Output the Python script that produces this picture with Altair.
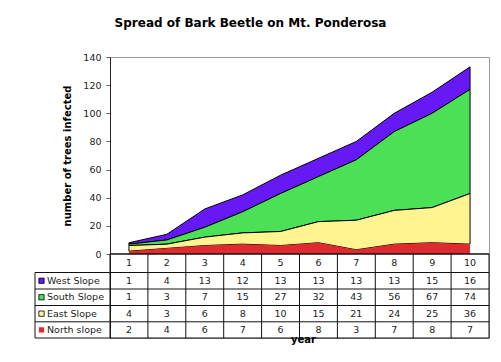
import altair as alt
import pandas as pd

# ---------------- data ----------------
years = [1, 2, 3, 4, 5, 6, 7, 8, 9, 10]
series = ["West Slope", "South Slope", "East Slope", "North slope"]
west = [1, 4, 13, 12, 13, 13, 13, 13, 15, 16]
south = [1, 3, 7, 15, 27, 32, 43, 56, 67, 74]
east = [4, 3, 6, 8, 10, 15, 21, 24, 25, 36]
north = [2, 4, 6, 7, 6, 8, 3, 7, 8, 7]
y_ticks = [0, 20, 40, 60, 80, 100, 120, 140]

colors = ["#6619F5", "#4BE055", "#FFF48F", "#DF2A2F"]
strokes = ["#000000", "#000000", "#000000", "transparent"]

values = {"West Slope": west, "South Slope": south, "East Slope": east, "North slope": north}
stack_order = {"North slope": 0, "East Slope": 1, "South Slope": 2, "West Slope": 3}

area_df = pd.DataFrame(
    [{"year": yr, "series": s, "value": v, "order": stack_order[s]}
     for s in series for yr, v in zip(years, values[s])]
)

# ---------------- layout ----------------
W, H = 379, 281
PLOT_H = 197                     # pixel height of the 0..140 part
UNIT = PLOT_H / 140.0            # px per y unit
Y_MIN = -(H - PLOT_H) / UNIT
XPX = W / 10.0                   # px per year

row_px = [0, 18.5, 35, 51.5, 67.8, 84]          # table row boundaries (px below 0 line)
row_y = [-p / UNIT for p in row_px]
leg_left = 0.5 - 75 / XPX
leg_sq = 0.5 - 68.5 / XPX
leg_txt = 0.5 - 63 / XPX

xs = alt.Scale(domain=[0.5, 10.5], nice=False, zero=False)
ys = alt.Scale(domain=[Y_MIN, 140], nice=False, zero=False)

FONT = "DejaVu Sans"

x_axis = alt.Axis(labels=False, ticks=False, domain=False, grid=False,
                  title="year", titleFont=FONT, titleFontSize=10,
                  titleFontWeight="bold", titleColor="#000",
                  titlePadding=-4, titleX=193)
y_axis = alt.Axis(values=y_ticks, grid=False, tickSize=4, tickColor="#666",
                  domainColor="#222", labelFont=FONT, labelFontSize=9.5,
                  labelColor="#222", labelPadding=5,
                  title="number of trees infected", titleFont=FONT,
                  titleFontSize=10, titleFontWeight="bold", titleColor="#000",
                  titleAngle=270, titleX=-43, titleY=98.5,
                  titleBaseline="middle", titleAlign="center")

# stacked areas
area = alt.Chart(area_df).mark_area(strokeWidth=1, interpolate="linear").encode(
    x=alt.X("year:Q", scale=xs, axis=x_axis),
    y=alt.Y("value:Q", stack="zero", scale=ys, axis=y_axis),
    color=alt.Color("series:N", scale=alt.Scale(domain=series, range=colors), legend=None),
    stroke=alt.Stroke("series:N", scale=alt.Scale(domain=series, range=strokes), legend=None),
    order=alt.Order("order:Q"),
)

# table grid lines
h_lines = [{"x": 0.5, "x2": 10.5, "y": row_y[0], "y2": row_y[0], "w": 1.5}]
for r in range(1, 6):
    h_lines.append({"x": leg_left, "x2": 10.5, "y": row_y[r], "y2": row_y[r], "w": 1})
v_lines = [{"x": 0.5 + k, "x2": 0.5 + k, "y": row_y[0], "y2": row_y[5], "w": 1} for k in range(0, 11)]
v_lines.append({"x": leg_left, "x2": leg_left, "y": row_y[1], "y2": row_y[5], "w": 1})
lines_df = pd.DataFrame(h_lines + v_lines)

grid = alt.Chart(lines_df).mark_rule(color="#111").encode(
    x=alt.X("x:Q", scale=xs, axis=x_axis),
    x2="x2:Q",
    y=alt.Y("y:Q", scale=ys, axis=y_axis),
    y2="y2:Q",
    strokeWidth=alt.StrokeWidth("w:Q", scale=None),
)

# table texts
cells = [{"x": yr, "y": (row_y[0] + row_y[1]) / 2, "t": str(yr)} for yr in years]
for i, s in enumerate(series):
    yc = (row_y[i + 1] + row_y[i + 2]) / 2
    for yr, v in zip(years, values[s]):
        cells.append({"x": yr, "y": yc, "t": str(v)})
cells_df = pd.DataFrame(cells)

cell_text = alt.Chart(cells_df).mark_text(
    font=FONT, fontSize=9.5, color="#222", baseline="middle", align="center"
).encode(
    x=alt.X("x:Q", scale=xs, axis=x_axis),
    y=alt.Y("y:Q", scale=ys, axis=y_axis),
    text="t:N",
)

leg_df = pd.DataFrame(
    [{"series": s, "x": leg_sq, "xt": leg_txt, "y": (row_y[i + 1] + row_y[i + 2]) / 2}
     for i, s in enumerate(series)]
)

leg_sq_mark = alt.Chart(leg_df).mark_square(size=28, opacity=1, strokeWidth=0.8).encode(
    x=alt.X("x:Q", scale=xs, axis=x_axis),
    y=alt.Y("y:Q", scale=ys, axis=y_axis),
    color=alt.Color("series:N", scale=alt.Scale(domain=series, range=colors), legend=None),
    stroke=alt.Stroke("series:N", scale=alt.Scale(domain=series, range=strokes), legend=None),
)

leg_text = alt.Chart(leg_df).mark_text(
    font=FONT, fontSize=9.5, color="#222", baseline="middle", align="left"
).encode(
    x=alt.X("xt:Q", scale=xs, axis=x_axis),
    y=alt.Y("y:Q", scale=ys, axis=y_axis),
    text="series:N",
)

chart = alt.layer(area, grid, cell_text, leg_sq_mark, leg_text).properties(
    width=W,
    height=H,
    autosize=alt.AutoSizeParams(type="none"),
    padding={"left": 102, "top": 49, "right": 4, "bottom": 16},
    background="white",
    title=alt.TitleParams("Spread of Bark Beetle on Mt. Ponderosa", font=FONT,
                          fontSize=12, fontWeight="bold", color="#000",
                          anchor="middle", dx=-49, offset=22),
).configure_view(stroke="#999", strokeWidth=1)

chart.save("out.html", embed_options={"renderer": "svg", "actions": False})
